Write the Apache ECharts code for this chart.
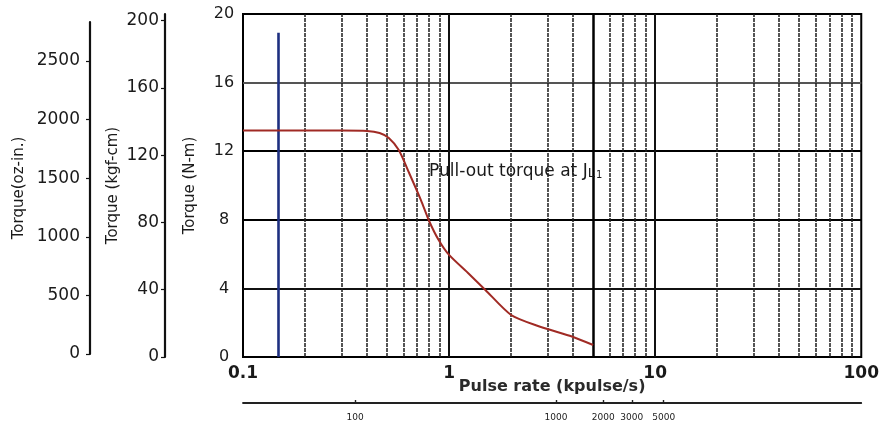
<!DOCTYPE html>
<html>
<head>
<meta charset="utf-8">
<script src="https://cdn.jsdelivr.net/npm/echarts@6/dist/echarts.min.js"></script>
<style>
  html, body { margin: 0; padding: 0; background: #fff; }
  #chart { width: 882px; height: 423px; }
</style>
</head>
<body>
<div id="chart"></div>
<script>
// Pull-out torque (N·m) against pulse rate (kpulse/s)
const pulseRate     = [0.1, 0.3, 0.4, 0.46, 0.51, 0.57, 0.64, 0.73, 0.8, 0.89, 1.0, 1.25, 1.5, 2.0, 2.7, 4.0, 5.0];
const pullOutTorque = [13.2, 13.2, 13.18, 13.06, 12.77, 12.07, 10.73, 9.15, 7.93, 6.82, 5.95, 4.84, 3.91, 2.45, 1.81, 1.17, 0.7];

// Torque scales (all three share the same physical range)
const torqueMaxNm  = 20;
const torqueStepNm = 4;
const kgfcmPerNm   = 10.197;
const ozinPerNm    = 141.61;
const kgfcmTicks   = [0, 40, 80, 120, 160, 200];
const ozinTicks    = [0, 500, 1000, 1500, 2000, 2500];

// Logarithmic pulse-rate grid
const pulseMin = 0.1, pulseMax = 100;
const pulseMinorLines  = [0.2, 0.3, 0.4, 0.5, 0.6, 0.7, 0.8, 0.9,
                          2, 3, 4, 6, 7, 8, 9,
                          20, 30, 40, 50, 60, 70, 80, 90];
const pulseDecadeLines = [1, 10];
const pulseHeavyLines  = [5];

// Speed scale printed under the pulse-rate axis
const speedLabels  = ['100', '1000', '2000', '3000', '5000'];
const speedAtPulse = [0.35, 3.3, 5.6, 7.7, 11];

// Vertical marker line and curve caption
const markerPulse  = 0.148;
const markerTorque = [0, 18.9];
const captionAt    = [0.8, 10.8];

const FONT = 'DejaVu Sans';
const INK = '#1a1a1a';

const chart = echarts.init(document.getElementById('chart'), null, { renderer: 'canvas' });

const speedLog = speedAtPulse.map(v => Math.log10(v));

const gridLineData = []
  .concat(pulseMinorLines.map(v => ({ xAxis: v, lineStyle: { color: '#1c1c1c', width: 1.5, type: [4, 1] } })))
  .concat(pulseDecadeLines.map(v => ({ xAxis: v, lineStyle: { color: '#111', width: 2, type: 'solid' } })))
  .concat(pulseHeavyLines.map(v => ({ xAxis: v, lineStyle: { color: '#000', width: 2.5, type: 'solid' } })));

const plain = v => String(v);

chart.setOption({
  animation: false,
  backgroundColor: '#fff',
  textStyle: { fontFamily: FONT, color: INK },
  grid: [
    { left: 243, top: 14, width: 621, height: 343, show: true, borderColor: '#000', borderWidth: 2, backgroundColor: 'transparent' },
    { left: 90, top: 22, width: 1, height: 332, show: false }
  ],
  xAxis: [
    {
      type: 'log', logBase: 10, gridIndex: 0, min: pulseMin, max: pulseMax,
      name: 'Pulse rate (kpulse/s)', nameLocation: 'middle', nameGap: 22, nameMoveOverlap: false,
      nameTextStyle: { fontFamily: FONT, fontSize: 16, fontWeight: 'bold', color: '#2a2a2a', verticalAlign: 'top' },
      axisLine: { show: false },
      axisTick: { show: false },
      splitLine: { show: false },
      axisLabel: {
        fontFamily: FONT, fontSize: 17, fontWeight: 'bold', color: INK, margin: 8,
        formatter: plain
      }
    },
    {
      type: 'value', gridIndex: 0, position: 'bottom', offset: 46,
      min: Math.log10(pulseMin), max: Math.log10(pulseMax),
      axisLine: { show: true, onZero: false, lineStyle: { color: '#222', width: 1.8 } },
      axisTick: { show: true, inside: true, length: 3, customValues: speedLog, lineStyle: { color: '#222', width: 1.4 } },
      splitLine: { show: false },
      axisLabel: {
        customValues: speedLog, fontFamily: FONT, fontSize: 9, color: '#222', margin: 10,
        formatter: v => {
          let best = 0;
          speedLog.forEach((s, i) => { if (Math.abs(s - v) < Math.abs(speedLog[best] - v)) best = i; });
          return speedLabels[best];
        }
      }
    },
    { type: 'value', gridIndex: 1, show: false, min: 0, max: 1 }
  ],
  yAxis: [
    {
      type: 'value', gridIndex: 0, min: 0, max: torqueMaxNm, interval: torqueStepNm,
      name: 'Torque (N-m)', nameLocation: 'middle', nameGap: 45, nameRotate: 90, nameMoveOverlap: false,
      nameTextStyle: { fontFamily: FONT, fontSize: 15, color: INK },
      axisLine: { show: false },
      axisTick: { show: false },
      axisLabel: { fontFamily: FONT, fontSize: 16, color: INK, margin: 19, align: 'center', formatter: plain },
      splitLine: {
        show: true,
        lineStyle: { width: 1.8, color: ['#000', '#111', '#000', '#000', '#555', '#000'] }
      }
    },
    {
      type: 'value', gridIndex: 0, position: 'left', offset: 78,
      min: 0, max: torqueMaxNm * kgfcmPerNm,
      name: 'Torque (kgf-cm)', nameLocation: 'middle', nameGap: 44, nameRotate: 90, nameMoveOverlap: false,
      nameTextStyle: { fontFamily: FONT, fontSize: 15, color: INK },
      axisLine: { show: true, onZero: false, lineStyle: { color: '#111', width: 2.2 } },
      axisTick: { show: true, length: 4, customValues: kgfcmTicks, lineStyle: { color: '#111', width: 1.2 } },
      axisLabel: { customValues: kgfcmTicks, fontFamily: FONT, fontSize: 17, color: INK, margin: 6, formatter: plain },
      splitLine: { show: false }
    },
    {
      type: 'value', gridIndex: 1, position: 'left',
      min: 0, max: torqueMaxNm * ozinPerNm,
      name: 'Torque(oz-in.)', nameLocation: 'middle', nameGap: 63, nameRotate: 90, nameMoveOverlap: false,
      nameTextStyle: { fontFamily: FONT, fontSize: 15, color: INK },
      axisLine: { show: true, onZero: false, lineStyle: { color: '#111', width: 2.2 } },
      axisTick: { show: true, length: 4, customValues: ozinTicks, lineStyle: { color: '#111', width: 1.2 } },
      axisLabel: { customValues: ozinTicks, fontFamily: FONT, fontSize: 17, color: INK, margin: 10, formatter: plain },
      splitLine: { show: false }
    }
  ],
  series: [
    {
      // vertical pulse-rate grid lines and the blue marker
      type: 'line', xAxisIndex: 0, yAxisIndex: 0, data: [], z: 1, silent: true,
      markLine: {
        silent: true, symbol: 'none', animation: false,
        label: { show: false },
        emphasis: { disabled: true },
        data: gridLineData.concat([[
          { coord: [markerPulse, markerTorque[0]], lineStyle: { color: '#1d2f80', width: 2.6, type: 'solid' } },
          { coord: [markerPulse, markerTorque[1]] }
        ]])
      }
    },
    {
      name: 'Pull-out torque',
      type: 'line', xAxisIndex: 0, yAxisIndex: 0, z: 5,
      data: pulseRate.map((p, i) => [p, pullOutTorque[i]]),
      smooth: 0.25,
      showSymbol: false,
      lineStyle: { color: '#a02a24', width: 2 },
      markPoint: {
        symbol: 'circle', symbolSize: 0, silent: true,
        data: [{ coord: captionAt }],
        label: {
          show: true, position: 'right', distance: 0,
          formatter: '{a|Pull-out torque at J}{b|L}{c|1}',
          rich: {
            a: { fontFamily: FONT, fontSize: 17, color: INK },
            b: { fontFamily: FONT, fontSize: 13, color: INK, verticalAlign: 'bottom' },
            c: { fontFamily: FONT, fontSize: 10, color: INK, verticalAlign: 'bottom', padding: [0, 0, 0, 1] }
          }
        }
      }
    }
  ]
});
</script>
</body>
</html>
